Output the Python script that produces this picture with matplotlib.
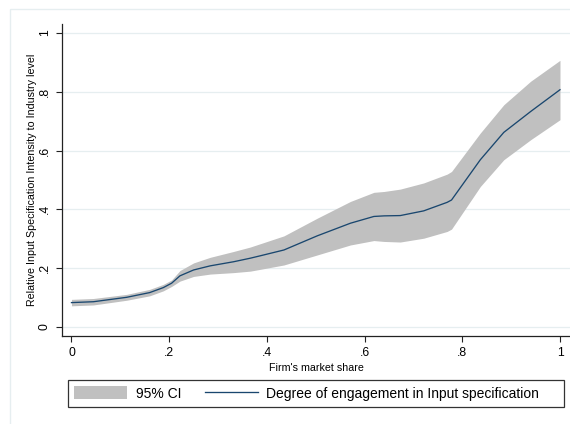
import matplotlib
matplotlib.use("Agg")
import matplotlib.pyplot as plt
from matplotlib.patches import Rectangle

plt.rcParams['font.family'] = ['Liberation Sans', 'DejaVu Sans']

# Fitted relationship and 95% confidence band
share = [0.000, 0.045, 0.113, 0.160, 0.188, 0.205, 0.222, 0.250, 0.284, 0.332,
         0.366, 0.386, 0.435, 0.503, 0.571, 0.619, 0.640, 0.673, 0.721, 0.769,
         0.778, 0.837, 0.885, 0.940, 1.000]
fit = [0.083, 0.086, 0.101, 0.117, 0.134, 0.149, 0.174, 0.194, 0.208, 0.222,
       0.234, 0.242, 0.262, 0.310, 0.353, 0.376, 0.378, 0.379, 0.395, 0.424,
       0.432, 0.569, 0.662, 0.733, 0.807]
ci_upper = [0.094, 0.097, 0.111, 0.128, 0.145, 0.160, 0.192, 0.218, 0.237, 0.257,
            0.272, 0.283, 0.310, 0.370, 0.427, 0.458, 0.461, 0.469, 0.490, 0.520,
            0.529, 0.660, 0.756, 0.836, 0.907]
ci_lower = [0.072, 0.075, 0.091, 0.106, 0.123, 0.138, 0.156, 0.172, 0.180, 0.185,
            0.190, 0.196, 0.211, 0.245, 0.279, 0.294, 0.291, 0.289, 0.302, 0.325,
            0.333, 0.478, 0.569, 0.637, 0.705]

xticks = [0, 0.2, 0.4, 0.6, 0.8, 1.0]
xtick_labels = ['0', '.2', '.4', '.6', '.8', '1']
yticks = [0, 0.2, 0.4, 0.6, 0.8, 1.0]
ytick_labels = ['0', '.2', '.4', '.6', '.8', '1']

W, H = 570, 424
fig = plt.figure(figsize=(W / 100, H / 100), dpi=100)
fig.patch.set_facecolor('white')

# light outer frame of the graph region
fig.add_artist(Rectangle((10 / W, -20 / H), 600 / W, (H - 9 + 20) / H,
                         transform=fig.transFigure, fill=False,
                         edgecolor='#e6eef0', linewidth=1.0))

ax = fig.add_axes([62 / W, (H - 336) / H, (570 - 62) / W, (336 - 24) / H])

band = ax.fill_between(share, ci_lower, ci_upper, color='#c0c0c0',
                       linewidth=0, label='95% CI', zorder=2)
line, = ax.plot(share, fit, color='#1a476f', linewidth=0.95,
                label='Degree of engagement in Input specification', zorder=3)

ax.set_xlim(-0.0194, 1.0205)
ax.set_ylim(-0.0306, 1.0306)

ax.set_xticks(xticks)
ax.set_xticklabels(xtick_labels)
ax.set_yticks(yticks)
ax.set_yticklabels(ytick_labels, rotation=90, va='center')

ax.yaxis.grid(True, color='#e6eef0', linewidth=0.9, zorder=0)
ax.xaxis.grid(False)
ax.set_axisbelow(True)

for side in ('top', 'right'):
    ax.spines[side].set_visible(False)
for side in ('left', 'bottom'):
    ax.spines[side].set_color('#222222')
    ax.spines[side].set_linewidth(0.9)

ax.tick_params(axis='both', direction='out', length=4, width=0.8,
               color='#222222', labelsize=8.7, labelcolor='black')
ax.tick_params(axis='x', pad=4)
ax.tick_params(axis='y', pad=4)

ax.set_xlabel("Firm's market share", fontsize=7.7, labelpad=2.5)
ax.set_ylabel("Relative Input Specification Intensity to Industry level",
              fontsize=7.7, labelpad=1.5)

# legend box below the plot
fig.add_artist(Rectangle((68 / W, (H - 407) / H), (564 - 68) / W, 27 / H,
                         transform=fig.transFigure, fill=False,
                         edgecolor='#333333', linewidth=0.9))
fig.legend(handles=[band, line], loc='center left',
           bbox_to_anchor=(74 / W, (H - 393.5) / H), ncol=2, frameon=False,
           fontsize=10, handlelength=3.85, handleheight=1.05,
           handletextpad=0.58, columnspacing=1.7, borderpad=0,
           borderaxespad=0)

fig.savefig('out.png', dpi=100, facecolor='white')
